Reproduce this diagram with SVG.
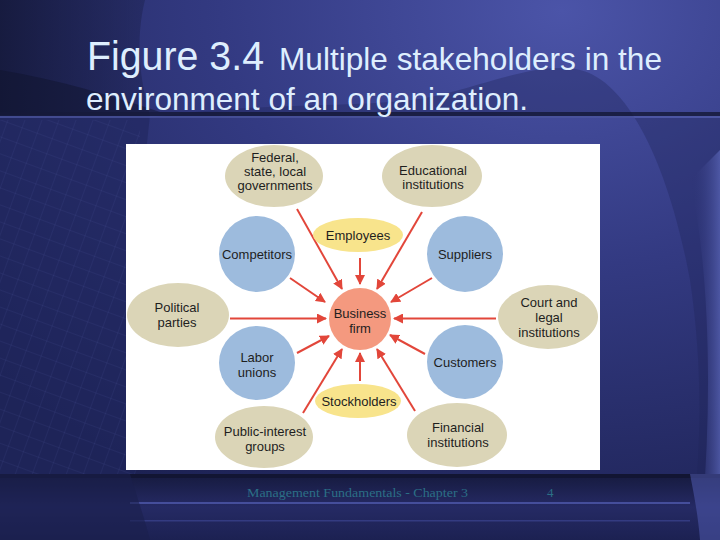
<svg xmlns="http://www.w3.org/2000/svg" width="720" height="540" viewBox="0 0 720 540">
<defs>
<radialGradient id="bg" cx="0.78" cy="0.02" r="1.05">
<stop offset="0" stop-color="#4b54a8"/>
<stop offset="0.45" stop-color="#333a82"/>
<stop offset="1" stop-color="#1c2152"/>
</radialGradient>
<linearGradient id="leftDark" x1="0" y1="0" x2="1" y2="0">
<stop offset="0" stop-color="#141838" stop-opacity="0.85"/>
<stop offset="1" stop-color="#1a1f4a" stop-opacity="0.4"/>
</linearGradient>
<linearGradient id="footer" x1="0" y1="0" x2="0" y2="1">
<stop offset="0" stop-color="#161a3e"/>
<stop offset="0.5" stop-color="#252a64"/>
<stop offset="1" stop-color="#1c2152"/>
</linearGradient>
<linearGradient id="rightLight" x1="0" y1="0" x2="1" y2="0">
<stop offset="0" stop-color="#2a3070" stop-opacity="0"/>
<stop offset="1" stop-color="#5560b0" stop-opacity="0.8"/>
</linearGradient>
<pattern id="grid" width="16" height="16" patternUnits="userSpaceOnUse" patternTransform="rotate(20)">
<path d="M0 0H16M0 0V16" stroke="#5a63b0" stroke-width="0.6" stroke-opacity="0.35" fill="none"/>
</pattern>
<marker id="ah" viewBox="0 0 10 10" refX="9" refY="5" markerWidth="10" markerHeight="10" markerUnits="userSpaceOnUse" orient="auto">
<path d="M0 0L10 5L0 10Z" fill="#e2463a"/>
</marker>
</defs>
<style>
.tan{fill:#dbd5b7}
.blue{fill:#9dbbdd}
.yel{fill:#f8e48c}
.core{fill:#f4997f}
.lbl{font-family:"Liberation Sans",Arial,sans-serif;font-size:13px;fill:#1e1e1e;text-anchor:middle}
.title{font-family:"Liberation Sans",Arial,sans-serif;fill:#deeefe}
.foot{font-family:"Liberation Serif","Times New Roman",serif;font-size:13px;fill:#2b6f86}
#connectors line{stroke:#e2463a;stroke-width:2;marker-end:url(#ah)}
</style>

<!-- background -->
<rect width="720" height="540" fill="url(#bg)"/>
<path d="M0 0H145C135 40 140 80 150 115L0 115Z" fill="url(#leftDark)"/>
<path d="M0 115H150C135 250 125 380 140 540H0Z" fill="#20265e" opacity="0.6"/>
<rect x="0" y="120" width="140" height="355" fill="url(#grid)"/>
<path d="M150 118C260 100 380 110 440 95C500 80 540 62 580 70C630 82 670 170 690 280C705 380 700 470 690 540H720V118Z" fill="#1f245a" opacity="0.35"/>
<path d="M690 180C712 280 712 420 700 540H720V150Z" fill="url(#rightLight)"/>
<path d="M0 70C60 80 110 95 160 112L0 112Z" fill="#10132e" opacity="0.5"/>
<rect x="0" y="112" width="720" height="4" fill="#141836" opacity="0.8"/>
<rect x="0" y="116" width="720" height="2" fill="#5660ad" opacity="0.6"/>
<rect x="0" y="474" width="720" height="66" fill="url(#footer)"/>
<rect x="0" y="474" width="720" height="4" fill="#111430" opacity="0.8"/>
<rect x="130" y="502" width="560" height="2" fill="#4d57aa" opacity="0.8"/>
<rect x="130" y="520" width="560" height="1.5" fill="#3c4592" opacity="0.7"/>
<path d="M0 474H130C138 500 145 520 150 540H0Z" fill="#1a1f4c" opacity="0.6"/>
<path d="M690 474H720V540H700C698 515 694 495 690 474Z" fill="#4b55a6" opacity="0.6"/>

<!-- title -->
<text class="title" y="70"><tspan x="87" font-size="40" textLength="177" lengthAdjust="spacingAndGlyphs">Figure 3.4</tspan><tspan x="279" font-size="32" textLength="383" lengthAdjust="spacingAndGlyphs">Multiple stakeholders in the</tspan></text>
<text class="title" x="86" y="110" font-size="32" textLength="442" lengthAdjust="spacingAndGlyphs">environment of an organization.</text>

<!-- figure panel -->
<rect x="126" y="144" width="474" height="326" fill="#ffffff"/>

<g id="connectors">
<line x1="297" y1="209" x2="342" y2="289"/>
<line x1="422" y1="212" x2="377" y2="289"/>
<line x1="360" y1="258" x2="360" y2="284"/>
<line x1="290" y1="278" x2="325" y2="302"/>
<line x1="432" y1="278" x2="391" y2="302"/>
<line x1="230" y1="318.5" x2="326" y2="318.5"/>
<line x1="496" y1="318.5" x2="394" y2="318.5"/>
<line x1="297" y1="353" x2="329" y2="336"/>
<line x1="425" y1="354" x2="390" y2="335"/>
<line x1="360" y1="381" x2="360" y2="353"/>
<line x1="303" y1="413" x2="342" y2="349"/>
<line x1="415" y1="411" x2="377" y2="349"/>
</g>

<g id="federal"><ellipse class="tan" cx="274" cy="176" rx="49" ry="31"/>
<text class="lbl" x="275" y="162">Federal,</text><text class="lbl" x="275" y="176">state, local</text><text class="lbl" x="275" y="190">governments</text></g>
<g id="educational"><ellipse class="tan" cx="432" cy="176" rx="50" ry="31"/>
<text class="lbl" x="433" y="175">Educational</text><text class="lbl" x="433" y="189">institutions</text></g>
<g id="competitors"><ellipse class="blue" cx="257" cy="254" rx="38" ry="38"/>
<text class="lbl" x="257" y="259">Competitors</text></g>
<g id="employees"><ellipse class="yel" cx="358" cy="235" rx="45" ry="17"/>
<text class="lbl" x="358" y="240">Employees</text></g>
<g id="suppliers"><ellipse class="blue" cx="465" cy="254" rx="38" ry="38"/>
<text class="lbl" x="465" y="259">Suppliers</text></g>
<g id="political"><ellipse class="tan" cx="178" cy="315" rx="51" ry="32"/>
<text class="lbl" x="177" y="312">Political</text><text class="lbl" x="177" y="327">parties</text></g>
<g id="business"><ellipse class="core" cx="360" cy="319" rx="31" ry="31"/>
<text class="lbl" x="360" y="318">Business</text><text class="lbl" x="360" y="333">firm</text></g>
<g id="court"><ellipse class="tan" cx="548" cy="317" rx="50" ry="32"/>
<text class="lbl" x="549" y="307">Court and</text><text class="lbl" x="549" y="322">legal</text><text class="lbl" x="549" y="337">institutions</text></g>
<g id="labor"><ellipse class="blue" cx="257" cy="363" rx="38" ry="37"/>
<text class="lbl" x="257" y="362">Labor</text><text class="lbl" x="257" y="377">unions</text></g>
<g id="customers"><ellipse class="blue" cx="465" cy="362" rx="38" ry="37"/>
<text class="lbl" x="465" y="367">Customers</text></g>
<g id="stockholders"><ellipse class="yel" cx="358" cy="401" rx="43" ry="17"/>
<text class="lbl" x="359" y="406">Stockholders</text></g>
<g id="public"><ellipse class="tan" cx="264" cy="437" rx="49" ry="31"/>
<text class="lbl" x="265" y="436">Public-interest</text><text class="lbl" x="265" y="451">groups</text></g>
<g id="financial"><ellipse class="tan" cx="457" cy="435" rx="50" ry="32"/>
<text class="lbl" x="458" y="432">Financial</text><text class="lbl" x="458" y="447">institutions</text></g>

<!-- footer -->
<text class="foot" x="247" y="497" textLength="221" lengthAdjust="spacingAndGlyphs">Management Fundamentals - Chapter 3</text>
<text class="foot" x="547" y="497">4</text>
</svg>
